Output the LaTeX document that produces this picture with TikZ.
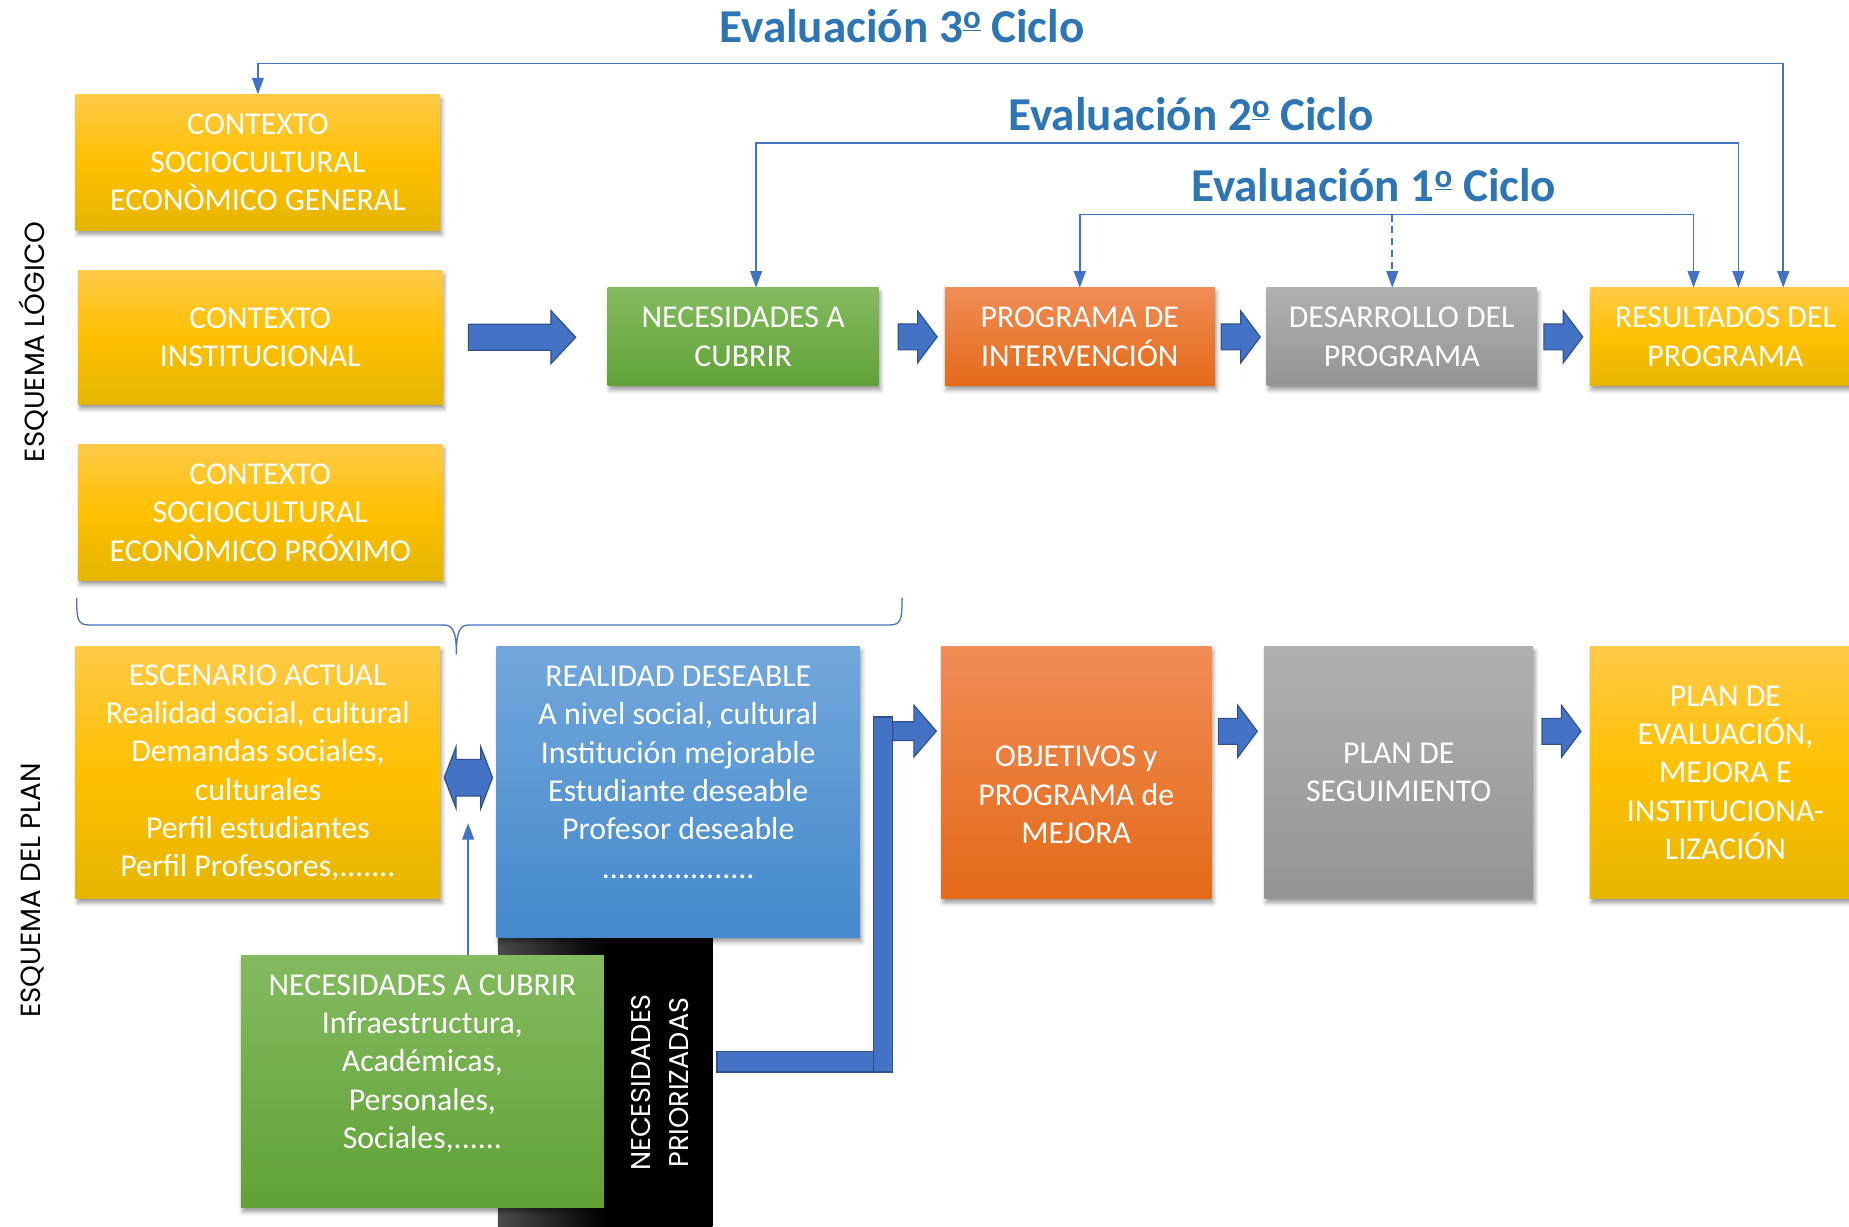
\documentclass[tikz,border=0pt]{standalone}
\usepackage{fontspec}
\setmainfont{Carlito}
\newfontfamily\gotica{Poppins}
\usepackage{tikz}
\usetikzlibrary{arrows.meta,calc,shadows.blur}

\definecolor{amA}{RGB}{255,202,72}
\definecolor{amB}{RGB}{255,192,0}
\definecolor{amC}{RGB}{228,181,0}
\definecolor{veA}{RGB}{132,186,96}
\definecolor{veC}{RGB}{96,162,54}
\definecolor{naA}{RGB}{241,140,86}
\definecolor{naC}{RGB}{228,106,24}
\definecolor{grA}{RGB}{176,176,176}
\definecolor{grC}{RGB}{148,148,148}
\definecolor{azA}{RGB}{114,167,219}
\definecolor{azC}{RGB}{67,137,203}
\definecolor{azul}{RGB}{68,114,196}
\definecolor{azulB}{RGB}{47,82,143}
\definecolor{titulo}{RGB}{46,117,182}
\newcommand{\cajafont}{\fontsize{27}{32.5}\selectfont}
\newcommand{\ordo}{\raisebox{.6ex}{\fontsize{28}{28}\selectfont\underline{o}}}

\begin{document}
\begin{tikzpicture}[x=1pt,y=-1pt,
	caja/.style={align=center,text=white,font=\cajafont,inner sep=0pt,anchor=north west,
		blur shadow={shadow xshift=1.5pt,shadow yshift=-3.5pt,shadow blur radius=3.5pt,shadow opacity=40}},
	amarilla/.style={caja,top color=amA,bottom color=amC,middle color=amB},
	verde/.style={caja,top color=veA,bottom color=veC},
	naranja/.style={caja,top color=naA,bottom color=naC},
	gris/.style={caja,top color=grA,bottom color=grC},
	celeste/.style={caja,top color=azA,bottom color=azC},
	ciclo/.style={draw=azul,line width=1.4pt,{Triangle[width=10pt,length=14pt]}-{Triangle[width=10pt,length=14pt]}},
	titulo/.style={text=titulo,font=\fontsize{40}{44}\selectfont\bfseries},
	lado/.style={rotate=90,font=\gotica\fontsize{23.5}{28}\selectfont},
	bloque/.style={fill=azul,draw=azulB,line width=1pt},
	flechita/.pic={\draw[bloque] (-16.5,-11) -- (0,-11) -- (0,-22) -- (16.5,0) -- (0,22) -- (0,11) -- (-16.5,11) -- cycle;}
	]
	\useasboundingbox (0,0) rectangle (1568,1040);
	
	% esquema logico
	\node[amarilla,minimum width=309pt,minimum height=115pt] (ctxG) at (64,80) {CONTEXTO\\SOCIOCULTURAL\\ECONÒMICO GENERAL};
	\node[amarilla,minimum width=309pt,minimum height=114pt] (ctxI) at (66,229) {CONTEXTO\\INSTITUCIONAL};
	\node[amarilla,minimum width=309pt,minimum height=115pt] (ctxP) at (66,377) {CONTEXTO\\SOCIOCULTURAL\\ECONÒMICO PRÓXIMO};
	\node[verde,minimum width=230pt,minimum height=83pt] (nec) at (515,244) {NECESIDADES A\\CUBRIR};
	\node[naranja,minimum width=229pt,minimum height=83pt] (prog) at (801,244) {PROGRAMA DE\\INTERVENCIÓN};
	\node[gris,minimum width=229pt,minimum height=83pt] (desa) at (1074,244) {DESARROLLO DEL\\PROGRAMA};
	\node[amarilla,minimum width=230pt,minimum height=83pt] (res) at (1348,244) {RESULTADOS DEL\\PROGRAMA};
	
	\draw[bloque] ($(ctxI.east)!.5!(nec.west)+(-48,-11)$) -- ++(70,0) -- ++(0,-11.5) -- ++(21,22.5) -- ++(-21,22.5) -- ++(0,-11.5) -- ++(-70,0) -- cycle;
	\pic at ($(nec.east)!.5!(prog.west)+(5,0)$) {flechita};
	\pic at ($(prog.east)!.5!(desa.west)$) {flechita};
	\pic at ($(desa.east)!.5!(res.west)$) {flechita};
	
	% ciclos de evaluacion
	\coordinate (n1) at (0,182);
	\coordinate (n2) at (0,121);
	\coordinate (n3) at (0,54);
	\coordinate (r1) at ($(res.north)+(-27,0)$);
	\coordinate (r2) at ($(res.north)+(11,0)$);
	\coordinate (r3) at ($(res.north)+(49,0)$);
	\coordinate (a2) at ($(nec.north)+(11,0)$);
	\coordinate (d1) at ($(desa.north)+(-8,0)$);
	\draw[ciclo] (prog.north) -- (prog.north |- n1) -| (r1);
	\draw[ciclo] (a2) -- (a2 |- n2) -| (r2);
	\draw[ciclo] (ctxG.north) -- (ctxG.north |- n3) -| (r3);
	\draw[ciclo,-{Triangle[width=10pt,length=14pt]},dash pattern=on 6pt off 4pt] (d1 |- n1) -- (d1);
	\node[titulo] (t3) at (765,22) {Evaluación 3\ordo{} Ciclo};
	\node[titulo] (t2) at (1010,97) {Evaluación 2\ordo{} Ciclo};
	\node[titulo] (t1) at (1165,157) {Evaluación 1\ordo{} Ciclo};
	
	% llave
	\draw[azul,line width=1.1pt] (65,507) .. controls (65,526) and (66,530) .. (76,530) -- (376,530)
	.. controls (384,530) and (387,535) .. (387,555) .. controls (387,535) and (390,530) .. (398,530)
	-- (754,530) .. controls (764,530) and (765,526) .. (765,507);
	
	% esquema del plan
	\node[anchor=north west,minimum width=182pt,minimum height=260pt,inner sep=0pt,
		left color=black!70,right color=black,middle color=black] (prio) at (422,795) {};
	\node[lado,align=center,text=white,font=\gotica\fontsize{23}{32}\selectfont] (prioT) at (560,918) {NECESIDADES\\PRIORIZADAS};
	\draw[azul,line width=1.4pt,-{Triangle[width=10pt,length=14pt]}] (397,812) coordinate (baja) -- (397,698) coordinate (sube);
	\node[amarilla,minimum width=309pt,minimum height=214pt] (esc) at (64,548) {ESCENARIO ACTUAL\\Realidad social, cultural\\Demandas sociales,\\culturales\\Perfil estudiantes\\Perfil Profesores,.......};
	\node[celeste,minimum width=308pt,minimum height=247pt] (real) at (421,548) {REALIDAD DESEABLE\\A nivel social, cultural\\Institución mejorable\\Estudiante deseable\\Profesor deseable\\...................\\[-8pt]\strut};
	\node[verde,minimum width=308pt,minimum height=214pt] (nec2) at (204,810) {NECESIDADES A CUBRIR\\Infraestructura,\\Académicas,\\Personales,\\Sociales,......\\[-8pt]\strut};
	\node[naranja,minimum width=229pt,minimum height=214pt] (obj) at (798,548) {\strut\\OBJETIVOS y\\PROGRAMA de\\MEJORA};
	\node[gris,minimum width=228pt,minimum height=214pt] (seg) at (1072,548) {PLAN DE\\SEGUIMIENTO};
	\node[amarilla,minimum width=230pt,minimum height=214pt] (plan) at (1348,548) {PLAN DE\\EVALUACIÓN,\\MEJORA E\\INSTITUCIONA-\\LIZACIÓN};
	
	\draw[bloque,shift={($(esc.east)!.5!(real.west)+(0,-4)$)}] (-20.5,0) -- (-10.5,-26) -- (-10.5,-15.5) -- (10.5,-15.5) -- (10.5,-26) -- (20.5,0)
	-- (10.5,26) -- (10.5,15.5) -- (-10.5,15.5) -- (-10.5,26) -- cycle;
	\draw[bloque] (608,892) rectangle (757,909);
	\draw[bloque] (741,608) rectangle (757,909);
	\draw[bloque] (757,612) -- (775,612) -- (775,598) -- (794,620) -- (775,642) -- (775,628) -- (757,628) -- cycle;
	\pic at ($(obj.east)!.5!(seg.west)+(0,-35)$) {flechita};
	\pic at ($(seg.east)!.5!(plan.west)+(0,-35)$) {flechita};
	
	\node[lado] (esqL) at (28,290) {ESQUEMA LÓGICO};
	\node[lado] (esqP) at (28,755) {ESQUEMA DEL PLAN};
\end{tikzpicture}
\end{document}
